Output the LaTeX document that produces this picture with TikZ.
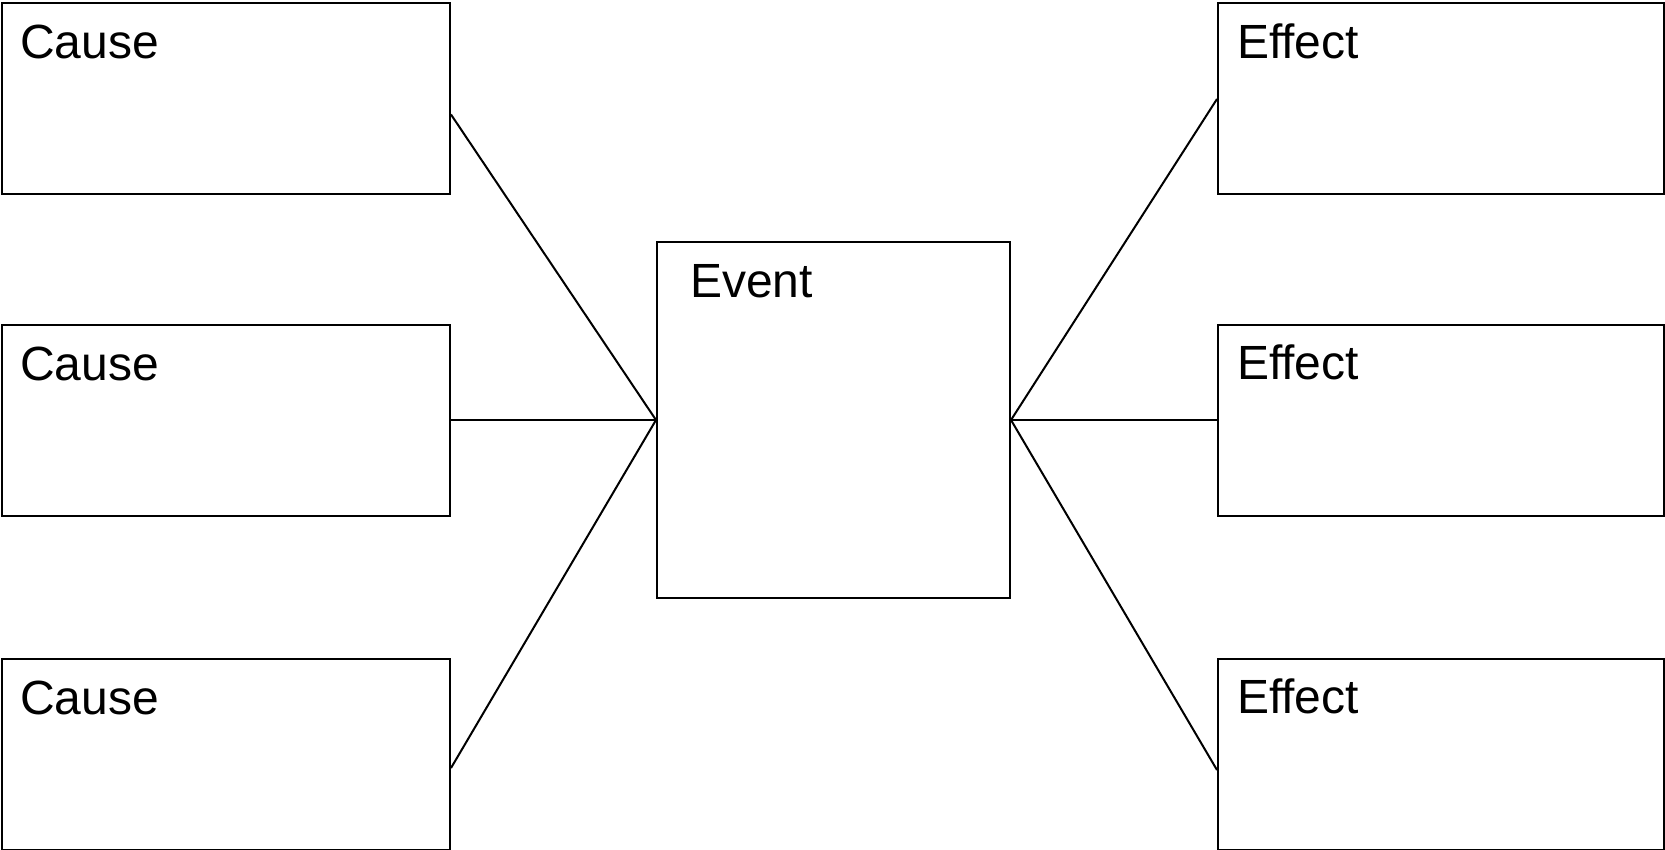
\documentclass[tikz,border=0pt]{standalone}
\usepackage{fontspec}
\setmainfont{Liberation Sans}

\begin{document}
\begin{tikzpicture}[x=1pt, y=-1pt, line width=2pt,
    box/.style={draw, rectangle, inner sep=0pt, minimum width=448pt, minimum height=191pt},
    tag/.style={anchor=north west, inner sep=0pt, font=\fontsize{48}{56}\selectfont}]
  \useasboundingbox (0,0) rectangle (1665,850);

  % Causes
  \node[box, label={[tag, xshift=18pt, yshift=-22pt]north west:Cause}] (c1) at (226,98.5) {};
  \node[box, label={[tag, xshift=18pt, yshift=-22pt]north west:Cause}] (c2) at (226,420) {};
  \node[box, label={[tag, xshift=18pt, yshift=-22pt]north west:Cause}] (c3) at (226,754) {};

  % Event
  \node[box, minimum width=353pt, minimum height=355pt,
        label={[tag, xshift=33pt, yshift=-22pt]north west:Event}] (ev) at (833.5,420) {};

  % Effects
  \node[box, minimum width=446pt, label={[tag, xshift=19pt, yshift=-20pt]north west:Effect}] (e1) at (1441,99) {};
  \node[box, minimum width=446pt, label={[tag, xshift=19pt, yshift=-20pt]north west:Effect}] (e2) at (1441,420) {};
  \node[box, minimum width=446pt, label={[tag, xshift=19pt, yshift=-20pt]north west:Effect}] (e3) at (1441,754) {};

  % Connectors
  \draw ([yshift=-16pt]c1.east) -- (ev.west);
  \draw (c2.east) -- (ev.west);
  \draw ([yshift=-14pt]c3.east) -- (ev.west);
  \draw (e1.west) -- (ev.east);
  \draw (e2.west) -- (ev.east);
  \draw ([yshift=-16pt]e3.west) -- (ev.east);
\end{tikzpicture}
\end{document}
